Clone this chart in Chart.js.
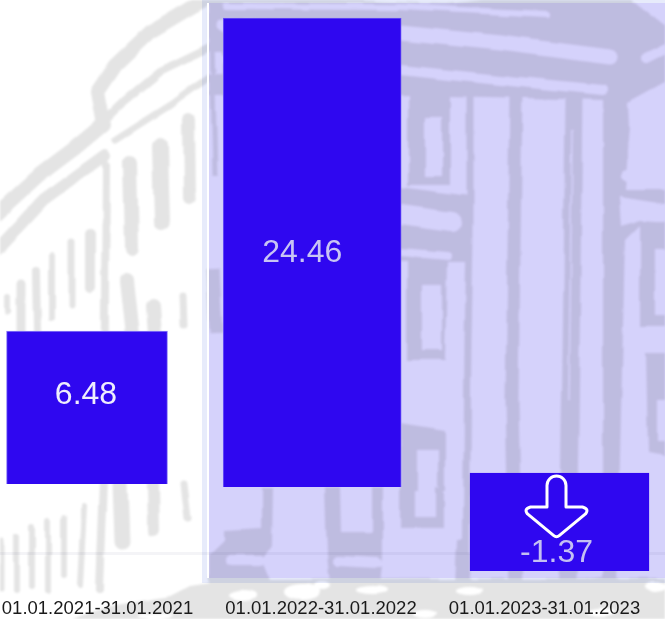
<!DOCTYPE html>
<html>
<head>
<meta charset="utf-8">
<style>
html,body{margin:0;padding:0;background:#fff;}
#stage{position:relative;width:665px;height:619px;overflow:hidden;}
#stage svg,#stage canvas{position:absolute;left:0;top:0;}
.panel{mix-blend-mode:multiply;}
</style>
<script src="https://cdn.jsdelivr.net/npm/chart.js@4"></script>
</head>
<body>
<div id="stage">
<svg width="665" height="619" viewBox="0 0 665 619">
  <defs><filter id="soft" x="0" y="0" width="100%" height="100%" filterUnits="userSpaceOnUse" primitiveUnits="userSpaceOnUse">
    <feTurbulence type="fractalNoise" baseFrequency="0.035" numOctaves="1" seed="4" result="n"/>
    <feDisplacementMap in="SourceGraphic" in2="n" scale="6" xChannelSelector="R" yChannelSelector="G" result="d"/>
    <feGaussianBlur in="d" stdDeviation="0.8"/>
  </filter></defs>
  <rect width="665" height="619" fill="#fff"/>
  <g filter="url(#soft)">
    <rect x="-5" y="-5" width="675" height="630" fill="#fff"/>
    <g fill="none" stroke="#e4e4e4" stroke-linecap="round" stroke-linejoin="round">
      <polyline stroke-width="14" points="222,-10 190,8 150,32 115,65 97,92 103,125 73,150 37,177 -5,215"/>
      <polyline stroke-width="8" points="222,42 160,72 120,105 108,117"/>
      <polyline stroke-width="7" points="222,68 170,105 115,140"/>
      <polyline stroke-width="12" points="105,155 43,200 -5,252"/>
      <polyline stroke-width="12" points="189,120 190,198"/>
      <polyline stroke-width="16" points="160,145 162,222"/>
      <polyline stroke-width="14" points="130,162 132,248"/>
      <polyline stroke-width="8" points="106,165 105,300 104,480 100,590"/>
      <polyline stroke-width="10" points="90,234 90,288"/>
      <polyline stroke-width="7" points="72,242 72,305"/>
      <polyline stroke-width="6" points="52,256 52,318"/>
      <polyline stroke-width="8" points="37,270 38,330"/>
      <polyline stroke-width="9" points="21,284 21,330"/>
      <polyline stroke-width="6" points="8,298 8,312"/>
      <polyline stroke-width="14" points="127,280 133,335"/>
      <polyline stroke-width="14" points="153,306 155,335"/>
      <polyline stroke-width="7" points="183,296 184,325"/>
      <polyline stroke-width="15" points="120,484 122,542"/>
      <polyline stroke-width="12" points="153,484 154,530"/>
      <polyline stroke-width="7" points="183,484 187,518"/>
      <polyline stroke-width="6" points="84,506 80,586"/>
      <polyline stroke-width="6" points="64,518 64,575"/>
      <polyline stroke-width="6" points="48,522 48,590"/>
      <polyline stroke-width="6" points="32,526 32,586"/>
      <polyline stroke-width="6" points="17,536 17,590"/>
      <polyline stroke-width="5" points="2,540 2,590"/>
    </g>
    <polygon fill="#e4e4e4" points="209,-5 445,4 530,-5 625,-5 672,32 672,78 632,100 625,190 672,190 672,230 640,225 625,240 617,590 603,590 603,100 400,95 209,95"/>
    <g fill="none" stroke="#fff" stroke-linecap="round" stroke-linejoin="round">
      <polyline stroke-width="15" points="225,25 400,33 500,43 610,57"/>
      <polyline stroke-width="10" points="225,60 400,70 500,80 603,90"/>
      <polyline stroke-width="6" points="225,6 400,7 548,14"/>
      <polyline stroke-width="10" points="646,58 672,45"/>
      <polyline stroke-width="11" points="634,143 672,132"/>
      <polyline stroke-width="12" points="627,176 672,187"/>
    </g>
    <polygon fill="#fff" points="645,-5 672,-5 672,22"/>
    <polygon fill="#fff" points="628,102 672,83 672,113 629,127"/>
    <polygon fill="#fff" points="620,197 672,205 672,222 640,220 622,226"/>
    <polygon fill="#fff" points="209,52 222,52 222,75 209,75"/>
    <g fill="none" stroke="#e4e4e4" stroke-linecap="butt" stroke-linejoin="round">
      <polyline stroke-width="7" points="470,90 470,240 468,340 466,590"/>
      <polyline stroke-width="13" points="516,90 514,250 512,400 516,590"/>
      <polyline stroke-width="17" points="574,95 572,280 570,430 568,590"/>
      <polyline stroke-width="5" points="211,-5 215,175"/>
      <polyline stroke-width="13" points="213,268 216,333"/>
    </g>
    <g fill="none" stroke="#fff" stroke-width="1.5"><polyline points="572,130 569,400"/></g>
    <path fill="#e4e4e4" fill-rule="evenodd" d="M408 90H450V185H408ZM425 118H442V177H425Z"/>
    <polygon fill="#e4e4e4" points="400,187 470,196 470,262 400,262"/>
    <g fill="none" stroke="#fff" stroke-linecap="round"><polyline stroke-width="20" points="400,215 452,222"/><polyline stroke-width="8" points="400,252 448,256"/></g>
    <path fill="#e4e4e4" fill-rule="evenodd" d="M407 262H447L445 360H407ZM422 285H442V350H422Z"/>
    <path fill="#e4e4e4" fill-rule="evenodd" d="M401 423L445 430V490H401ZM418 450H438V490H418Z"/>
    <path fill="#e4e4e4" fill-rule="evenodd" d="M640 225H672V327H640ZM655 250H672V315H655Z"/>
    <path fill="#e4e4e4" fill-rule="evenodd" d="M646 353H672V456L648 452ZM657 400H672V440H657Z"/>
    <polygon fill="#e4e4e4" points="225,530 262,528 262,487 273,487 272,545 262,560 272,585 209,585 209,555 225,540"/>
    <polygon fill="#e4e4e4" points="325,487 340,487 341,532 372,532 372,487 383,487 383,557 380,585 330,585 327,555"/>
    <path fill="#e4e4e4" fill-rule="evenodd" d="M400 487H443V528H400ZM415 487H435V517H415Z"/>
    <polygon fill="#e4e4e4" points="457,540 470,540 470,585 455,585"/>
    <g fill="none" stroke="#fff" stroke-linecap="round"><polyline stroke-width="10" points="230,561 260,561"/><polyline stroke-width="10" points="338,561 378,563"/></g>
    <polygon fill="#e4e4e4" points="55,625 110,606 170,596 190,586 230,580 672,578 672,625"/>
    <g fill="#fff">
      <ellipse cx="243" cy="595" rx="14" ry="5"/><ellipse cx="302" cy="592" rx="18" ry="8"/><ellipse cx="322" cy="586" rx="8" ry="4"/>
      <ellipse cx="372" cy="590" rx="16" ry="4"/><ellipse cx="470" cy="590" rx="14" ry="4"/><ellipse cx="655" cy="586" rx="10" ry="5"/>
      <ellipse cx="600" cy="612" rx="14" ry="4"/><ellipse cx="155" cy="615" rx="18" ry="3"/><ellipse cx="425" cy="614" rx="12" ry="4"/>
    </g>
  </g>
  <path class="panel" fill="#e7ebfb" fill-rule="evenodd" d="M202 0H665V583H202ZM209 3V578H665V3Z"/>
  <rect x="207" y="3" width="2" height="575" fill="#fff"/>
  <rect class="panel" x="209" y="3" width="456" height="575" fill="#d5d2fb"/>
</svg>
<canvas id="chart" width="665" height="619"></canvas>
</div>
<script>
// Data
const categories = ["01.01.2021-31.01.2021", "01.01.2022-31.01.2022", "01.01.2023-31.01.2023"];
const values = [6.48, 24.46, -1.37];
const barTops = [10.15, 24.46, 3.66];
const barBottoms = [3.155, 3.02, -0.82];

// Layout and style
const tickCenters = [97.5, 321, 544.5];
const barCenters = [87, 312.2, 559.5];
const barWidths = [161, 178, 179];
const barBorders = ["#8f80f8", "#6a55f6", "#2f07f0"];
const labelColors = ["#efedfd", "#c8c4f4", "#c4bff3"];
const labelShiftX = [-1, -10, -3];
const labelShiftY = [-12, 1, 31];

const datasets = values.map((v, i) => ({
  label: categories[i],
  data: [{ x: barCenters[i], y: [barBottoms[i], barTops[i]] }],
  backgroundColor: "#2f07f0",
  borderColor: barBorders[i],
  borderWidth: 1,
  barThickness: barWidths[i],
  grouped: false
}));

const overlay = {
  id: "overlay",
  afterDatasetsDraw(chart) {
    const ctx = chart.ctx;
    values.forEach((v, i) => {
      const bar = chart.getDatasetMeta(i).data[0];
      const midY = (bar.y + bar.base) / 2;
      ctx.save();
      ctx.font = '32px "Liberation Sans", Arial, sans-serif';
      ctx.fillStyle = labelColors[i];
      ctx.textAlign = "center";
      ctx.textBaseline = "middle";
      ctx.fillText(String(v), bar.x + labelShiftX[i], midY + labelShiftY[i]);
      ctx.restore();
      if (v < 0) {
        const cx = bar.x - 3, top = bar.y + 3;
        ctx.save();
        ctx.translate(cx, top);
        ctx.strokeStyle = "#fff";
        ctx.lineWidth = 3;
        ctx.lineJoin = "round";
        ctx.beginPath();
        ctx.moveTo(-9.5, 31);
        ctx.lineTo(-9.5, 9.5);
        ctx.arc(0, 9.5, 9.5, Math.PI, 0);
        ctx.lineTo(9.5, 31);
        ctx.lineTo(26, 31);
        ctx.quadraticCurveTo(33, 33, 29, 38);
        ctx.lineTo(3, 59.5);
        ctx.quadraticCurveTo(0, 62, -3, 59.5);
        ctx.lineTo(-29, 38);
        ctx.quadraticCurveTo(-33, 33, -26, 31);
        ctx.closePath();
        ctx.stroke();
        ctx.restore();
      }
    });
  }
};

new Chart(document.getElementById("chart"), {
  type: "bar",
  data: { datasets },
  plugins: [overlay],
  options: {
    responsive: false,
    animation: false,
    layout: { padding: 0 },
    plugins: { legend: { display: false }, tooltip: { enabled: false } },
    scales: {
      x: {
        type: "linear",
        offset: false,
        min: 0,
        max: 665,
        grid: { display: false },
        border: { display: false },
        afterBuildTicks(scale) { scale.ticks = tickCenters.map(value => ({ value })); },
        afterFit(scale) { scale.height = 37; scale.paddingLeft = 0; scale.paddingRight = 0; },
        ticks: {
          autoSkip: false,
          maxRotation: 0,
          padding: 8,
          color: "#1a1a1a",
          font: { family: '"Liberation Sans", Arial, sans-serif', size: 18.5 },
          callback: (value, index) => categories[index]
        }
      },
      y: {
        type: "linear",
        min: -1.326,
        max: 25.286,
        border: { display: false },
        afterBuildTicks(scale) { scale.ticks = [{ value: 0 }]; },
        afterFit(scale) { scale.width = 0; },
        grid: { color: "rgba(60,50,110,0.055)", lineWidth: 3, drawTicks: false },
        ticks: { display: false }
      }
    }
  }
});
</script>
</body>
</html>
